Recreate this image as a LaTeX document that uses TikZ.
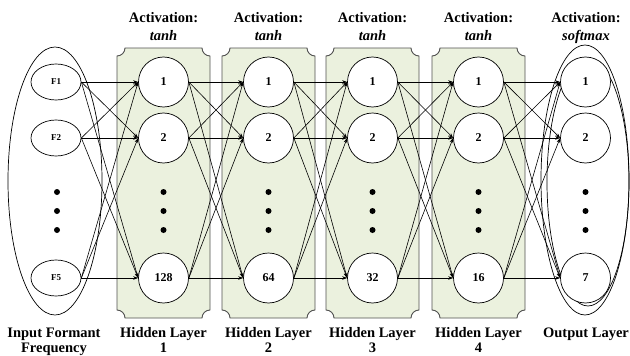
\documentclass[tikz,border=0pt]{standalone}
\usepackage{fontspec}
\setmainfont{Liberation Serif}
\usetikzlibrary{arrows.meta,shapes.geometric}
\definecolor{boxfill}{RGB}{235,241,222}
\definecolor{boxline}{RGB}{80,80,80}
\tikzset{
 neuron/.style={circle, draw, fill=white, minimum size=50pt, inner sep=0pt, line width=0.7pt, font=\fontsize{12}{12}\selectfont\bfseries},
 feat/.style={ellipse, draw, fill=white, minimum width=50pt, minimum height=36pt, inner sep=0pt, line width=0.7pt, font=\fontsize{9}{9}\selectfont\bfseries},
 conn/.style={-{Stealth[length=5pt,width=3.5pt]}, line width=0.6pt},
 dotn/.style={circle, fill=black, inner sep=0pt, minimum size=6pt},
 lbl/.style={font=\fontsize{14.5}{16}\selectfont\bfseries, anchor=base, inner sep=0pt},
 layerbox/.style={draw=boxline, fill=boxfill, line width=0.9pt},
 group/.style={draw, line width=0.7pt}
}
\newcommand\plaque[2]{%
 \path[layerbox] (#1+8,48) -- (#2-8,48) arc[start angle=180,end angle=90,radius=8]
  -- (#2,310) arc[start angle=270,end angle=180,radius=8]
  -- (#1+8,318) arc[start angle=0,end angle=-90,radius=8]
  -- (#1,56) arc[start angle=90,end angle=0,radius=8] -- cycle;}
\begin{document}
\begin{tikzpicture}[x=1pt,y=-1pt]
\useasboundingbox (0,0) rectangle (630,356);
% group outlines and layer boxes
\draw[group] (55,181) ellipse [x radius=47, y radius=134];
\draw[group] (585,180) ellipse [x radius=44, y radius=135];
\draw[group] (588,182) ellipse [x radius=41, y radius=124];
\plaque{117}{210}
\plaque{222}{315}
\plaque{326}{419}
\plaque{432}{525}
% nodes
\node[feat] (f1) at (56,82) {F1};
\node[feat] (f2) at (56,138) {F2};
\node[feat] (f3) at (56,278) {F5};
\foreach \n/\x/\last in {a/163.5/128, b/268.5/64, c/372.5/32, d/478.5/16, o/585.5/7}{
  \node[neuron] (\n1) at (\x,82) {1};
  \node[neuron] (\n2) at (\x,138) {2};
  \node[neuron] (\n3) at (\x,278) {\last};
}
\foreach \x [count=\k] in {57,163.5,268.5,372.5,478.5,585.5}{
  \node[dotn] (dA\k) at (\x,192) {};
  \node[dotn] (dB\k) at (\x,211) {};
  \node[dotn] (dC\k) at (\x,230) {};
}
% connections
\foreach \s/\t in {f/a,a/b,b/c,c/d,d/o}
  \foreach \i in {1,2,3}
    \foreach \j in {1,2,3}
      \draw[conn] (\s\i.east) -- (\t\j.west);
% labels
\foreach \x [count=\k] in {163.5,268.5,372.5,478.5}{
  \node[lbl] (act\k) at (\x,23) {Activation:};
  \node[lbl] (fn\k) at (\x,40.5) {\itshape tanh};
  \node[lbl] (hl\k) at (\x,337) {Hidden Layer};
  \node[lbl] (hn\k) at (\x,352) {\k};
}
\node[lbl] (acto) at (586,23) {Activation:};
\node[lbl] (fno) at (586,40.5) {\itshape softmax};
\node[lbl] (inl1) at (54,337) {Input Formant};
\node[lbl] (inl2) at (54,352) {Frequency};
\node[lbl] (outl) at (586,337) {Output Layer};
\end{tikzpicture}
\end{document}
